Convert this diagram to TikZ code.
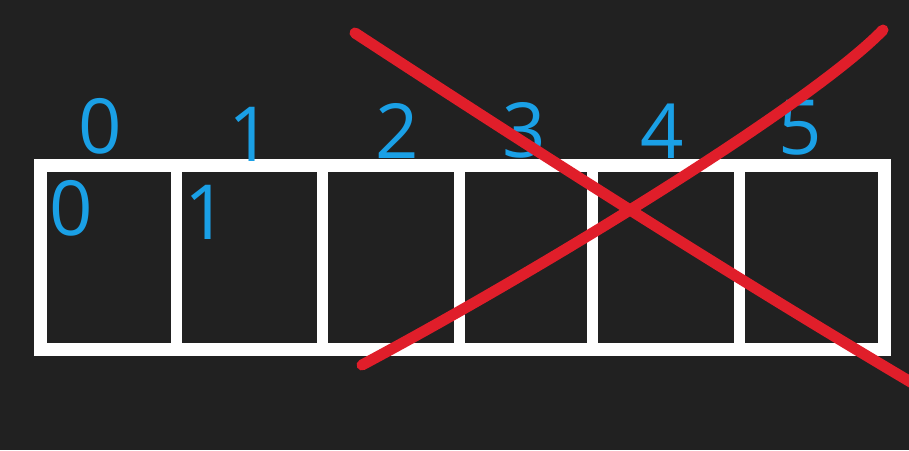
\documentclass[tikz,border=0pt]{standalone}
\usepackage{fontspec}
\setmainfont{Open Sans}
\definecolor{bgc}{HTML}{212121}
\definecolor{digitblue}{HTML}{1AA0E6}
\definecolor{crossred}{HTML}{E01E2A}
\begin{document}
\begin{tikzpicture}[x=1pt,y=-1pt,
  frame/.style={draw=white,line width=13pt},
  divider/.style={draw=white,line width=11pt},
  digit/.style={text=digitblue,inner sep=0pt,anchor=center,font=\fontsize{76}{76}\selectfont},
  crossline/.style={draw=crossred,line width=11pt,line cap=round}]
\fill[bgc] (0,0) rectangle (909,450);
\useasboundingbox (0,0) rectangle (909,450);
% array frame
\draw[frame] (40.5,165) rectangle (884.5,349.5);
\foreach \x in {176,322,459.5,592,739}
  \draw[divider] (\x,165) -- (\x,349.5);
% index labels
\node[digit] (i0) at (100,126) {0};
\node[digit] (i1) at (250,134) {1};
\node[digit] (i2) at (397,131) {2};
\node[digit] (i3) at (524,130) {3};
\node[digit] (i4) at (662,131) {4};
\node[digit] (i5) at (800,128) {5};
% values
\node[digit] (v0) at (71,208) {0};
\node[digit] (v1) at (206,212) {1};
% red cross
\coordinate (a1) at (355,33);
\coordinate (a2) at (914,384);
\coordinate (b1) at (883,30);
\coordinate (b2) at (362,365);
\draw[crossline] (a1) .. controls (540,154) and (730,275) .. (a2);
\draw[crossline] (b1) .. controls (810,105) and (540,270) .. (b2);
\end{tikzpicture}
\end{document}
